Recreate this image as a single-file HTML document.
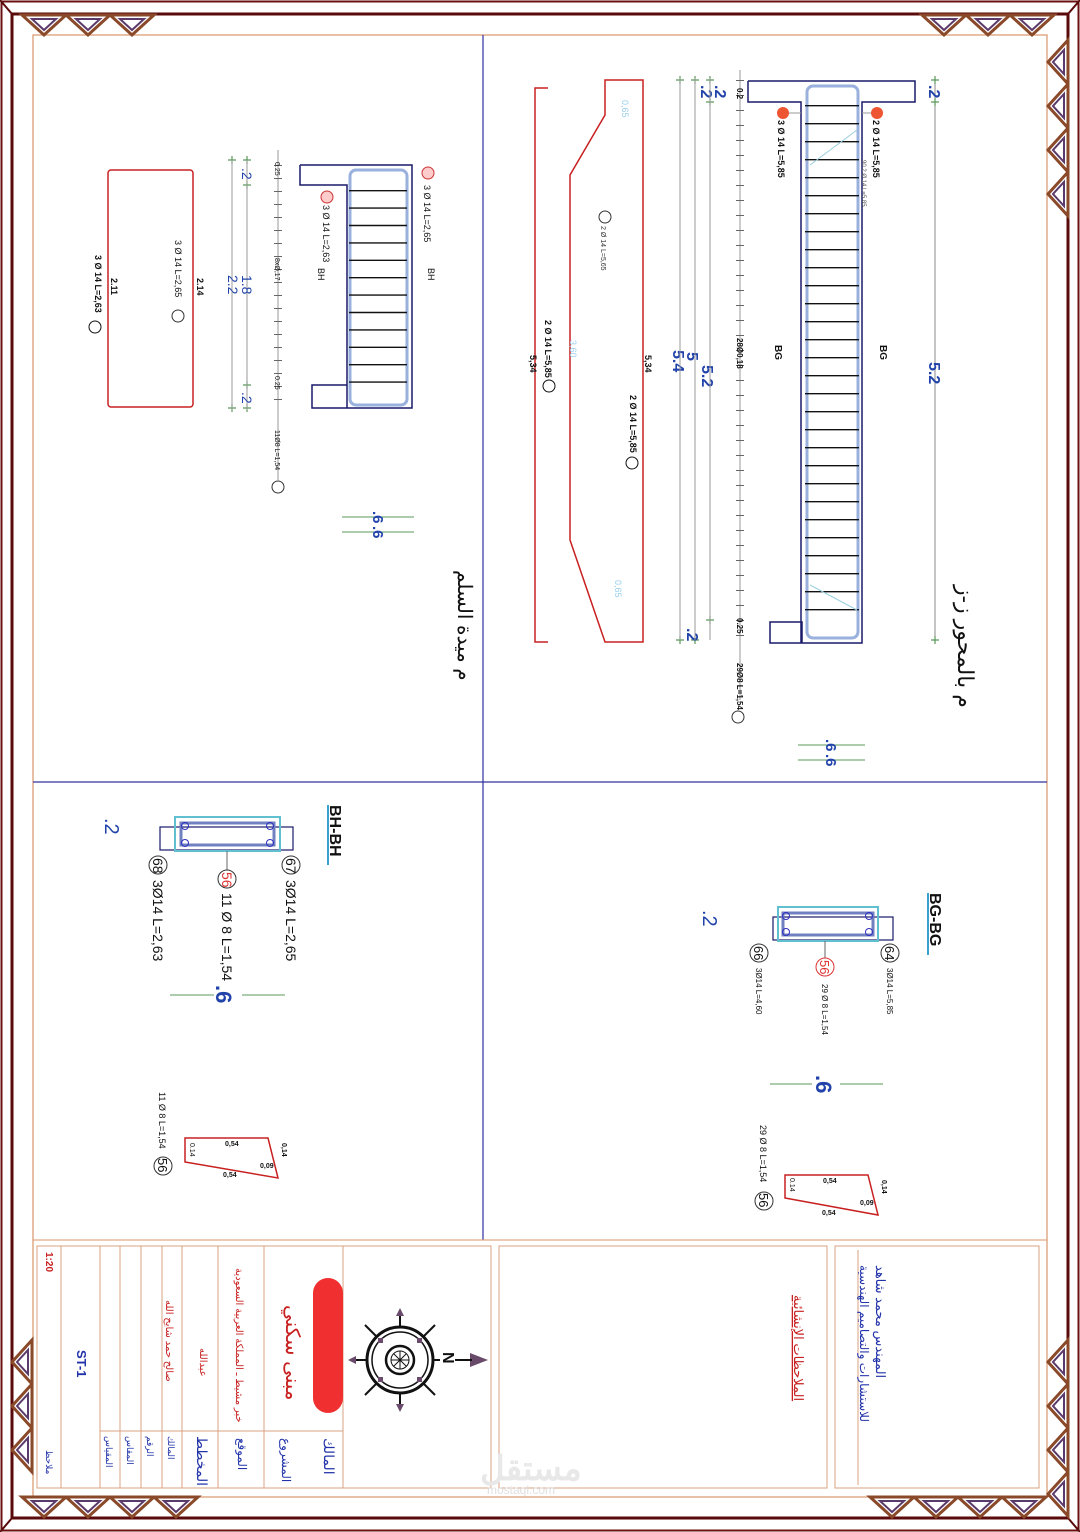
<!DOCTYPE html>
<html><head><meta charset="utf-8"><style>
html,body{margin:0;padding:0;background:#fff}
svg{display:block}
text{font-family:"Liberation Sans","Noto Sans CJK SC",sans-serif}
</style></head><body>
<svg width="1080" height="1532" viewBox="0 0 1080 1532" xmlns="http://www.w3.org/2000/svg">
<defs>
<g id="tri">
<polygon points="0,0 44,0 22,20" fill="none" stroke="#8a4a2a" stroke-width="3"/>
<polygon points="10,4 34,4 22,15" fill="#fff" stroke="#5a3a6a" stroke-width="2"/>
</g>
</defs>
<rect x="1.5" y="1.5" width="1077" height="1529" fill="none" stroke="#6a1010" stroke-width="2"/>
<rect x="12" y="14" width="1056" height="1504" fill="none" stroke="#5a0a0a" stroke-width="3"/>
<rect x="33" y="35" width="1014" height="1462" fill="none" stroke="#d9956a" stroke-width="1.2"/>
<line x1="0" y1="0" x2="12" y2="14" stroke="#5a0a0a" stroke-width="2"/>
<line x1="1080" y1="0" x2="1068" y2="14" stroke="#5a0a0a" stroke-width="2"/>
<line x1="0" y1="1532" x2="12" y2="1518" stroke="#5a0a0a" stroke-width="2"/>
<line x1="1080" y1="1532" x2="1068" y2="1518" stroke="#5a0a0a" stroke-width="2"/>
<g>
<use href="#tri" x="22" y="15"/><use href="#tri" x="66" y="15"/><use href="#tri" x="110" y="15"/>
<use href="#tri" x="922" y="15"/><use href="#tri" x="966" y="15"/><use href="#tri" x="1010" y="15"/>
<use href="#tri" x="22" y="1497"/><use href="#tri" x="66" y="1497"/><use href="#tri" x="110" y="1497"/><use href="#tri" x="154" y="1497"/>
<use href="#tri" x="870" y="1497"/><use href="#tri" x="914" y="1497"/><use href="#tri" x="958" y="1497"/><use href="#tri" x="1002" y="1497"/>
<g transform="translate(1068,40) rotate(90)"><use href="#tri" x="0" y="0"/><use href="#tri" x="44" y="0"/><use href="#tri" x="88" y="0"/><use href="#tri" x="132" y="0"/></g>
<g transform="translate(1068,1340) rotate(90)"><use href="#tri" x="0" y="0"/><use href="#tri" x="44" y="0"/><use href="#tri" x="88" y="0"/><use href="#tri" x="132" y="0"/></g>
<g transform="translate(12,1340) rotate(90)"><use href="#tri" x="0" y="-20"/><use href="#tri" x="44" y="-20"/><use href="#tri" x="88" y="-20"/></g>
</g>
<line x1="483" y1="35" x2="483" y2="1240" stroke="#3030a0" stroke-width="1.2"/>
<line x1="33" y1="782" x2="1047" y2="782" stroke="#3030a0" stroke-width="1.2"/>
<line x1="33" y1="1240" x2="1047" y2="1240" stroke="#d9956a" stroke-width="1"/>

<g stroke="#1a1a6a" fill="none" stroke-width="1.5">
<path d="M748,81 H915 V102 H862 V643 H802 V622 H770 V643 H802 M748,81 V102 H801 V643"/>
</g>
<rect x="807" y="86" width="51" height="552" rx="6" fill="none" stroke="#9ab0dd" stroke-width="3"/>
<line x1="832" y1="105" x2="832" y2="620" stroke="#111" stroke-width="54" stroke-dasharray="1.4 16.6"/>
<line x1="810" y1="165" x2="857" y2="130" stroke="#9ad0dd" stroke-width="1"/>
<line x1="810" y1="585" x2="857" y2="610" stroke="#9ad0dd" stroke-width="1"/>
<line x1="780" y1="113" x2="801" y2="113" stroke="#999"/><line x1="862" y1="113" x2="877" y2="113" stroke="#999"/>
<circle cx="783" cy="113" r="6" fill="#e53" /><circle cx="877" cy="113" r="6" fill="#e53"/>
<g font-size="9" font-weight="bold" fill="#111">
<text transform="translate(778,120) rotate(90)">3 Ø 14 L=5,85</text>
<text transform="translate(873,120) rotate(90)">2 Ø 14 L=5,85</text>
</g>
<text transform="translate(862,160) rotate(90)" font-size="6" fill="#555">90 2 Ø 14 L=5,85</text>
<line x1="935" y1="80" x2="935" y2="640" stroke="#888"/>
<g stroke="#5a9a5a" stroke-width="1.2">
<path d="M931,80h8M935,76v8M931,102h8M935,98v8M931,640h8M935,636v8"/>
<path d="M706,80h8M710,76v8M706,102h8M710,98v8M706,620h8M710,616v8M691,80h8M695,76v8M691,640h8M695,636v8M676,80h8M680,76v8M676,640h8M680,636v8"/>
<path d="M243,160h8M247,156v8M243,185h8M247,181v8M243,385h8M247,381v8M243,408h8M247,404v8M228,160h8M232,156v8M228,408h8M232,404v8"/>
</g>
<g fill="#2244aa" font-size="16" font-weight="bold">
<text transform="translate(929,85) rotate(90)">.2</text>
<text transform="translate(929,362) rotate(90)">5.2</text>
<text transform="translate(701,85) rotate(90)">.2</text>
<text transform="translate(715,85) rotate(90)">.2</text>
<text transform="translate(702,365) rotate(90)">5.2</text>
<text transform="translate(687,352) rotate(90)">5</text>
<text transform="translate(673,350) rotate(90)">5.4</text>
<text transform="translate(687,628) rotate(90)">.2</text>
</g>
<g stroke="#999" stroke-width="1">
<line x1="740" y1="70" x2="740" y2="700"/>
<line x1="710" y1="78" x2="710" y2="640"/>
<line x1="695" y1="78" x2="695" y2="640"/>
<line x1="680" y1="78" x2="680" y2="640"/>
</g>
<line x1="740" y1="80" x2="740" y2="640" stroke="#666" stroke-dasharray="1 14" stroke-width="8"/>
<g font-size="8" font-weight="bold" fill="#111">
<text transform="translate(737,88) rotate(90)">0.2</text>
<text transform="translate(737,338) rotate(90)">28Ø0,18</text>
<text transform="translate(737,618) rotate(90)">0.25</text>
<text transform="translate(737,663) rotate(90)">29Ø8 L=1,54</text>
</g>
<circle cx="738" cy="717" r="6" fill="none" stroke="#333"/>
<g font-size="10" font-weight="bold" fill="#111">
<text transform="translate(775,345) rotate(90)">BG</text>
<text transform="translate(880,345) rotate(90)">BG</text>
</g>
<path d="M548,88 H535 V642 H548 M605,80 H643 V642 H605 L570,540 V175 L605,115 Z" fill="none" stroke="#c82020" stroke-width="1.5"/>
<g font-size="9" font-weight="bold" fill="#111">
<text transform="translate(545,320) rotate(90)">2 Ø 14 L=5,85</text>
<text transform="translate(630,395) rotate(90)">2 Ø 14 L=5,85</text>
<text transform="translate(530,355) rotate(90)">5,34</text>
<text transform="translate(645,355) rotate(90)">5,34</text>
</g>
<circle cx="549" cy="386" r="6" fill="none" stroke="#111"/><circle cx="632" cy="463" r="6" fill="none" stroke="#111"/>
<circle cx="605" cy="217" r="6" fill="none" stroke="#333"/>
<text transform="translate(601,226) rotate(90)" font-size="7" fill="#333">2 Ø 14 L=5,65</text>
<g font-size="9" fill="#9ad0ee"><text transform="translate(570,340) rotate(90)">3,60</text><text transform="translate(622,100) rotate(90)">0,65</text><text transform="translate(615,580) rotate(90)">0,65</text></g>
<text transform="translate(958,585) rotate(90)" font-size="22" fill="#111" font-family="'Noto Sans CJK SC',sans-serif">م بالمحور ز-ز</text>
<g stroke="#5a9a5a"><line x1="798" y1="745" x2="865" y2="745"/><line x1="798" y1="760" x2="865" y2="760"/></g>
<g fill="#2244aa" font-size="15" font-weight="bold"><text transform="translate(826,739) rotate(90)">.6</text><text transform="translate(826,754) rotate(90)">.6</text></g>

<g stroke="#1a1a6a" fill="none" stroke-width="1.5">
<path d="M300,165 H412 V408 H347 V385 H312 V408 H347 M300,165 V185 H347 V385"/>
</g>
<rect x="350" y="170" width="57" height="235" rx="6" fill="none" stroke="#9ab0dd" stroke-width="3"/>
<line x1="378" y1="190" x2="378" y2="395" stroke="#111" stroke-width="58" stroke-dasharray="1.4 16"/>
<circle cx="428" cy="173" r="6" fill="#fcc" stroke="#c33"/><circle cx="327" cy="197" r="6" fill="#fcc" stroke="#c33"/>
<g font-size="9" fill="#111">
<text transform="translate(424,185) rotate(90)">3 Ø 14 L=2,65</text>
<text transform="translate(323,205) rotate(90)">3 Ø 14 L=2,63</text>
<text transform="translate(428,268) rotate(90)">BH</text><text transform="translate(318,268) rotate(90)">BH</text>
<text transform="translate(175,240) rotate(90)">3 Ø 14 L=2,65</text>
</g>
<line x1="278" y1="150" x2="278" y2="480" stroke="#999"/>
<line x1="278" y1="165" x2="278" y2="408" stroke="#666" stroke-dasharray="1 12" stroke-width="8"/>
<line x1="247" y1="160" x2="247" y2="410" stroke="#999"/><line x1="232" y1="160" x2="232" y2="410" stroke="#999"/>
<g font-size="7" fill="#111"><text transform="translate(275,162) rotate(90)">0.25</text><text transform="translate(275,258) rotate(90)">8xØ,17</text><text transform="translate(275,376) rotate(90)">0.25</text><text transform="translate(275,430) rotate(90)">11Ø8 L=1,54</text></g>
<circle cx="278" cy="487" r="6" fill="none" stroke="#333"/>
<g fill="#2244aa" font-size="14"><text transform="translate(242,168) rotate(90)">.2</text><text transform="translate(242,275) rotate(90)">1.8</text><text transform="translate(228,275) rotate(90)">2.2</text><text transform="translate(242,392) rotate(90)">.2</text></g>
<rect x="108" y="170" width="85" height="237" rx="3" fill="none" stroke="#c82020" stroke-width="1.5"/>
<g font-size="9" font-weight="bold" fill="#111"><text transform="translate(197,278) rotate(90)">2.14</text><text transform="translate(111,278) rotate(90)">2.11</text><text transform="translate(95,255) rotate(90)">3 Ø 14 L=2,63</text></g>
<circle cx="95" cy="327" r="6" fill="none" stroke="#111"/><circle cx="178" cy="316" r="6" fill="none" stroke="#333"/>
<g stroke="#5a9a5a"><line x1="342" y1="517" x2="414" y2="517"/><line x1="342" y1="532" x2="414" y2="532"/></g>
<g fill="#2244aa" font-size="15" font-weight="bold"><text transform="translate(373,511) rotate(90)">.6</text><text transform="translate(373,526) rotate(90)">.6</text></g>
<text transform="translate(458,570) rotate(90)" font-size="20" fill="#111" font-family="'Noto Sans CJK SC',sans-serif">م ميدة السلم</text>

<rect x="160" y="827" width="133" height="23" fill="none" stroke="#1a1a6a" stroke-width="1.2"/>
<rect x="175" y="817" width="105" height="34" fill="none" stroke="#60c0d0" stroke-width="2"/>
<rect x="181" y="823" width="93" height="22" fill="none" stroke="#7080c0" stroke-width="3"/>
<g fill="none" stroke="#3030c0"><circle cx="185" cy="826" r="3.5"/><circle cx="185" cy="843" r="3.5"/><circle cx="270" cy="826" r="3.5"/><circle cx="270" cy="843" r="3.5"/></g>
<line x1="227" y1="851" x2="227" y2="870" stroke="#666"/>
<text transform="translate(330,805) rotate(90)" font-size="16" font-weight="bold" fill="#111">BH-BH</text>
<line x1="328" y1="805" x2="328" y2="865" stroke="#3aa0d0" stroke-width="2"/>
<g fill="none" stroke="#333"><circle cx="158" cy="865" r="9"/><circle cx="227" cy="879" r="9"/><circle cx="291" cy="865" r="9"/></g>
<g font-size="14" fill="#111">
<text transform="translate(153,858) rotate(90)">68</text><text transform="translate(286,858) rotate(90)">67</text>
<text transform="translate(222,872) rotate(90)" fill="#d33">56</text>
<text transform="translate(153,880) rotate(90)">3Ø14 L=2,63</text>
<text transform="translate(286,880) rotate(90)">3Ø14 L=2,65</text>
<text transform="translate(222,893) rotate(90)">11 Ø 8 L=1,54</text>
</g>
<text transform="translate(105,818) rotate(90)" font-size="20" fill="#2244aa">.2</text>
<line x1="170" y1="995" x2="285" y2="995" stroke="#5a9a5a"/>
<rect x="214" y="982" width="28" height="26" fill="#fff"/>
<text transform="translate(216,985) rotate(90)" font-size="22" font-weight="bold" fill="#2244aa">.6</text>
<path d="M185,1138 L268,1138 L278,1178 L185,1162 Z" fill="none" stroke="#c82020" stroke-width="1.5"/>
<g font-size="7" font-weight="bold" fill="#111"><text x="225" y="1146">0,54</text><text x="223" y="1177">0,54</text><text x="260" y="1168">0,09</text><text transform="translate(282,1143) rotate(90)">0,14</text><text transform="translate(190,1143) rotate(90)" font-weight="normal">0.14</text></g>
<text transform="translate(159,1092) rotate(90)" font-size="9" fill="#111">11 Ø 8 L=1,54</text>
<circle cx="163" cy="1166" r="9" fill="none" stroke="#333"/>
<text transform="translate(158,1158) rotate(90)" font-size="13" fill="#111">56</text>

<rect x="773" y="917" width="120" height="23" fill="none" stroke="#1a1a6a" stroke-width="1.2"/>
<rect x="778" y="907" width="100" height="34" fill="none" stroke="#60c0d0" stroke-width="2"/>
<rect x="783" y="913" width="90" height="22" fill="none" stroke="#7080c0" stroke-width="3"/>
<g fill="none" stroke="#3030c0"><circle cx="786" cy="916" r="3.5"/><circle cx="786" cy="932" r="3.5"/><circle cx="869" cy="916" r="3.5"/><circle cx="869" cy="932" r="3.5"/></g>
<line x1="825" y1="941" x2="825" y2="958" stroke="#666"/>
<text transform="translate(930,893) rotate(90)" font-size="16" font-weight="bold" fill="#111">BG-BG</text>
<line x1="928" y1="893" x2="928" y2="955" stroke="#3aa0d0" stroke-width="2"/>
<g fill="none" stroke="#333"><circle cx="759" cy="953" r="9"/><circle cx="825" cy="967" r="9" stroke="#d33"/><circle cx="890" cy="953" r="9"/></g>
<g font-size="13" fill="#111">
<text transform="translate(754,946) rotate(90)">66</text><text transform="translate(885,946) rotate(90)">64</text>
<text transform="translate(820,960) rotate(90)" fill="#d33">56</text>
</g>
<g font-size="8" fill="#111">
<text transform="translate(756,968) rotate(90)">3Ø14 L=4,60</text>
<text transform="translate(887,968) rotate(90)">3Ø14 L=5,85</text>
<text transform="translate(822,984) rotate(90)">29 Ø 8 L=1,54</text>
</g>
<text transform="translate(703,910) rotate(90)" font-size="20" fill="#2244aa">.2</text>
<line x1="770" y1="1084" x2="883" y2="1084" stroke="#5a9a5a"/>
<rect x="812" y="1071" width="28" height="26" fill="#fff"/>
<text transform="translate(816,1075) rotate(90)" font-size="22" font-weight="bold" fill="#2244aa">.6</text>
<path d="M785,1175 L868,1175 L878,1215 L785,1198 Z" fill="none" stroke="#c82020" stroke-width="1.5"/>
<g font-size="7" font-weight="bold" fill="#111"><text x="823" y="1183">0,54</text><text x="822" y="1215">0,54</text><text x="860" y="1205">0,09</text><text transform="translate(882,1180) rotate(90)">0,14</text><text transform="translate(790,1178) rotate(90)" font-weight="normal">0.14</text></g>
<text transform="translate(760,1125) rotate(90)" font-size="9" fill="#111">29 Ø 8 L=1,54</text>
<circle cx="764" cy="1201" r="9" fill="none" stroke="#333"/>
<text transform="translate(759,1193) rotate(90)" font-size="13" fill="#111">56</text>

<g fill="none" stroke="#d9a080" stroke-width="1">
<rect x="37" y="1246" width="454" height="242"/>
<rect x="499" y="1246" width="328" height="242"/>
<rect x="835" y="1246" width="204" height="242"/>
<line x1="343" y1="1246" x2="343" y2="1488"/>
<line x1="264" y1="1246" x2="264" y2="1488"/>
<line x1="218" y1="1246" x2="218" y2="1488"/>
<line x1="182" y1="1246" x2="182" y2="1488"/>
<line x1="162" y1="1246" x2="162" y2="1488"/>
<line x1="141" y1="1246" x2="141" y2="1488"/>
<line x1="120" y1="1246" x2="120" y2="1488"/>
<line x1="100" y1="1246" x2="100" y2="1488"/>
<line x1="61" y1="1246" x2="61" y2="1488"/>
<line x1="100" y1="1431" x2="343" y2="1431"/>
<line x1="858" y1="1250" x2="858" y2="1485"/>
</g>
<rect x="313" y="1278" width="30" height="135" rx="15" fill="#f03030"/>
<g font-family="'Noto Sans CJK SC',sans-serif">
<text transform="translate(286,1305) rotate(90)" font-size="20" fill="#c82020">مبنى سكني</text>
<text transform="translate(236,1268) rotate(90)" font-size="10" fill="#c82020">خبر مشيط ـ المملكة العربية السعودية</text>
<text transform="translate(200,1348) rotate(90)" font-size="10" fill="#c82020">عبدالله</text>
<text transform="translate(166,1300) rotate(90)" font-size="10" fill="#c82020">صالح حمد شايح الله</text>
<text transform="translate(324,1438) rotate(90)" font-size="14" fill="#2233aa">المالك</text>
<text transform="translate(282,1438) rotate(90)" font-size="12" fill="#2233aa">المشروع</text>
<text transform="translate(238,1438) rotate(90)" font-size="12" fill="#2233aa">الموقع</text>
<text transform="translate(197,1436) rotate(90)" font-size="14" fill="#2233aa">المخطط</text>
<text transform="translate(168,1436) rotate(90)" font-size="9" fill="#2233aa">المالك</text>
<text transform="translate(147,1436) rotate(90)" font-size="9" fill="#2233aa">الرقم</text>
<text transform="translate(127,1436) rotate(90)" font-size="9" fill="#2233aa">المقاس</text>
<text transform="translate(106,1436) rotate(90)" font-size="9" fill="#2233aa">المقياس</text>
<text transform="translate(46,1450) rotate(90)" font-size="9" fill="#2233aa">ملاحظ</text>
<text transform="translate(794,1295) rotate(90)" font-size="13" fill="#c82020" text-decoration="underline">الملاحظات الإنشائية</text>
<text transform="translate(876,1265) rotate(90)" font-size="13" fill="#2233aa">المهندس محمد شاهد</text>
<text transform="translate(860,1265) rotate(90)" font-size="12" fill="#2233aa">للاستشارات والتصاميم الهندسية</text>
</g>
<text transform="translate(46,1252) rotate(90)" font-size="10" font-weight="bold" fill="#c82020">1:20</text>
<text transform="translate(77,1350) rotate(90)" font-size="13" font-weight="bold" fill="#2233aa">ST-1</text>
<g transform="translate(400,1360)" stroke="#111" fill="none">
<circle r="33" stroke-width="3"/><circle r="28" stroke-width="1.5"/><circle r="14" stroke-width="2.5"/><circle r="9"/>
<path d="M-9,0H9M0,-9V9M-6,-6L6,6M-6,6L6,-6"/>
<path d="M-35,-35L-24,-24M35,-35L24,-24M-35,35L-24,24M35,35L24,24" stroke-width="2"/>
<path d="M-33,0H-44M0,-33V-44M0,33V44M33,0H40" stroke-width="2"/>
<g fill="#6a4a6a" stroke="none"><path d="M-44,-4L-52,0L-44,4Z"/><path d="M-4,-44L0,-52L4,-44Z"/><path d="M-4,44L0,52L4,44Z"/><path d="M70,-7L88,0L70,7Z"/>
<rect x="-22" y="-22" width="5" height="5"/><rect x="17" y="-22" width="5" height="5"/><rect x="-22" y="17" width="5" height="5"/><rect x="17" y="17" width="5" height="5"/></g>
<line x1="55" y1="0" x2="72" y2="0" stroke-width="2"/>
</g>
<text transform="translate(443,1352) rotate(90)" font-size="16" font-weight="bold" fill="#111">N</text>
<text x="480" y="1480" font-size="34" font-weight="bold" fill="#e8e8e8" font-family="'Noto Sans CJK SC',sans-serif">مستقل</text>
<text x="487" y="1494" font-size="12" fill="#e0e0e0">mostaql.com</text>
</svg>
</body></html>
